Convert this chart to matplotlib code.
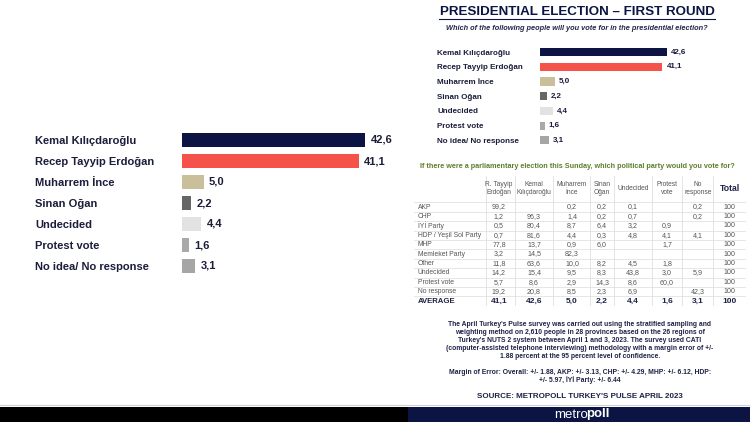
import matplotlib
matplotlib.use("Agg")
import matplotlib.pyplot as plt
from matplotlib.patches import Rectangle

plt.rcParams['font.family'] = ['Liberation Sans', 'DejaVu Sans']

# ---- data ----
candidates = ['Kemal Kılıçdaroğlu', 'Recep Tayyip Erdoğan', 'Muharrem İnce',
              'Sinan Oğan', 'Undecided', 'Protest vote', 'No idea/ No response']
shares = [42.6, 41.1, 5.0, 2.2, 4.4, 1.6, 3.1]
bar_colors = ['#0b1442', '#f5524a', '#c9bf9b', '#666666', '#e2e2e2', '#a9a9a9', '#a6a6a6']

col_heads = ['R. Tayyip\nErdoğan', 'Kemal\nKılıçdaroğlu', 'Muharrem\nİnce', 'Sinan\nOğan',
             'Undecided', 'Protest\nvote', 'No\nresponse', 'Total']
row_heads = ['AKP', 'CHP', 'İYİ Party', 'HDP / Yeşil Sol Party', 'MHP', 'Memleket Party',
             'Other', 'Undecided', 'Protest vote', 'No response', 'AVERAGE']
cells = [
    ['99,2', '', '0,2', '0,2', '0,1', '', '0,2', '100'],
    ['1,2', '96,3', '1,4', '0,2', '0,7', '', '0,2', '100'],
    ['0,5', '80,4', '8,7', '6,4', '3,2', '0,9', '', '100'],
    ['0,7', '81,6', '4,4', '0,3', '4,8', '4,1', '4,1', '100'],
    ['77,8', '13,7', '0,9', '6,0', '', '1,7', '', '100'],
    ['3,2', '14,5', '82,3', '', '', '', '', '100'],
    ['11,8', '63,6', '10,0', '8,2', '4,5', '1,8', '', '100'],
    ['14,2', '15,4', '9,5', '8,3', '43,8', '3,0', '5,9', '100'],
    ['5,7', '8,6', '2,9', '14,3', '8,6', '60,0', '', '100'],
    ['19,2', '20,8', '8,5', '2,3', '6,9', '', '42,3', '100'],
    ['41,1', '42,6', '5,0', '2,2', '4,4', '1,6', '3,1', '100'],
]

title = 'PRESIDENTIAL ELECTION – FIRST ROUND'
question = 'Which of the following people will you vote for in the presidential election?'
table_title = 'If there were a parliamentary election this Sunday, which political party would you vote for?'
method_lines = [
    "The April Turkey's Pulse survey was carried out using the stratified sampling and",
    "weighting method on 2,610 people in 28 provinces based on the 26 regions of",
    "Turkey's NUTS 2 system between April 1 and 3, 2023. The survey used CATI",
    "(computer-assisted telephone interviewing) methodology with a margin error of +/-",
    "1.88 percent at the 95 percent level of confidence.",
]
margin_lines = [
    "Margin of Error: Overall: +/- 1.88, AKP: +/- 3.13, CHP: +/- 4.29, MHP: +/- 6.12, HDP:",
    "+/- 5.97, İYİ Party: +/- 6.44",
]
source = "SOURCE: METROPOLL TURKEY'S PULSE APRIL 2023"

NAVY = '#0b1442'
W, H = 750, 422
fig = plt.figure(figsize=(W / 100, H / 100), dpi=100)


def px_axes(l, t, w, h):
    return fig.add_axes([l / W, 1 - (t + h) / H, w / W, h / H])


# background canvas in pixel units
bg = px_axes(0, 0, W, H)
bg.set_xlim(0, W)
bg.set_ylim(H, 0)
bg.axis('off')
bg.add_patch(Rectangle((0, 407), 408, 15, color='black', lw=0))
bg.add_patch(Rectangle((408, 407), 342, 15, color=NAVY, lw=0))
bg.plot([0, W], [405, 405], color='#d0d0d0', lw=0.8)
bg.text(588, 414.5, 'metro', color='white', fontsize=9.5, ha='right', va='center')
bg.text(586, 414.5, 'poll', color='white', fontsize=9.5, ha='left', va='center', fontweight='bold')

# titles on the right panel
bg.text(577, 12, title, fontsize=9.6, fontweight='bold', color=NAVY, ha='center', va='center')
bg.plot([439, 715], [19, 19], color=NAVY, lw=0.8)
bg.text(577, 29, question, fontsize=5.3, fontweight='bold', style='italic',
        color='#22264a', ha='center', va='center')
bg.text(577, 167, table_title, fontsize=5.2, fontweight='bold', color='#5f7f2c',
        ha='center', va='center')
for k, line in enumerate(method_lines):
    bg.text(580, 325 + 8 * k, line, fontsize=4.9, fontweight='bold', color='#1e2245',
            ha='center', va='center')
for k, line in enumerate(margin_lines):
    bg.text(580, 373 + 7.5 * k, line, fontsize=4.9, fontweight='bold', color='#1e2245',
            ha='center', va='center')
bg.text(580, 396, source, fontsize=5.8, fontweight='bold', color='#1e2245',
        ha='center', va='center')


def bar_panel(ax, fs, label_pad, bh):
    ypos = list(range(len(candidates)))
    ax.barh(ypos, shares, height=bh, color=bar_colors)
    ax.set_xlim(0, 50)
    ax.set_ylim(len(candidates) - 0.5, -0.5)
    ax.set_yticks(ypos)
    ax.set_yticklabels(candidates, ha='left', fontsize=fs, fontweight='bold', color='#1b1d3a')
    ax.tick_params(axis='y', length=0, pad=label_pad)
    ax.set_xticks([])
    for s in ax.spines.values():
        s.set_visible(False)
    ax.patch.set_alpha(0)
    for i, v in enumerate(shares):
        ax.annotate(f'{v:.1f}'.replace('.', ','), (v, i), xytext=(fs * 0.5, 0),
                    textcoords='offset points', va='center', ha='left',
                    fontsize=fs, fontweight='bold', color='#1b1d3a')


# left chart
axL = px_axes(182, 129.5, 215, 147)
bar_panel(axL, 8.0, (182 - 35) * 0.72, 0.62)

# right chart
axR = px_axes(540, 44.7, 149, 103)
bar_panel(axR, 5.8, (540 - 437) * 0.72, 0.55)

# table
axT = px_axes(410, 176, 340, 130)
axT.set_xlim(410, 750)
axT.set_ylim(10.53, -3.3)
axT.axis('off')
col_x = [499, 534, 572, 602, 633, 667, 698, 730]
vlines = [486, 515, 553, 590, 614, 652, 682, 713]
for x in vlines:
    axT.plot([x, x], [-3.3, 10.5], color='#d9d9d9', lw=0.5)
for r in range(-1, len(row_heads) - 1):
    axT.plot([414, 745], [r + 0.5, r + 0.5], color='#dcdcdc', lw=0.5)
for j, head in enumerate(col_heads):
    bold = head == 'Total'
    axT.text(col_x[j], -2.0, head, fontsize=6.2 if bold else 4.8, ha='center', va='center',
             color='#1e2245' if bold else '#555555', fontweight='bold' if bold else 'normal',
             linespacing=1.15)
for i, name in enumerate(row_heads):
    avg = name == 'AVERAGE'
    axT.text(418, i, name, fontsize=5.6 if avg else 4.9, ha='left', va='center',
             color='#1e2245' if avg else '#555555', fontweight='bold' if avg else 'normal')
    for j, val in enumerate(cells[i]):
        axT.text(col_x[j], i, val, fontsize=6.0 if avg else 5.1, ha='center', va='center',
                 color='#1e2245' if avg else '#555555', fontweight='bold' if avg else 'normal')

fig.savefig('out.png', dpi=100)
